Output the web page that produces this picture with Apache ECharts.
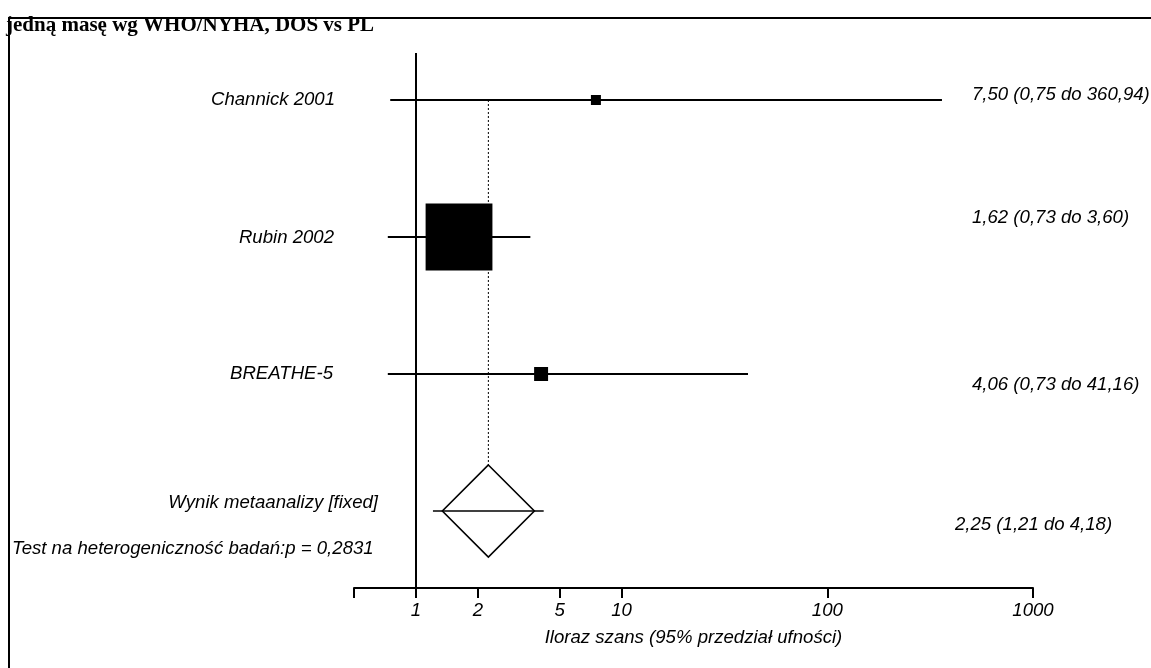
<!DOCTYPE html>
<html>
<head>
<meta charset="utf-8">
<script src="https://cdn.jsdelivr.net/npm/echarts@6/dist/echarts.min.js"></script>
<style>
  html, body { margin: 0; padding: 0; background: #fff; }
  #chart { width: 1151px; height: 668px; }
</style>
</head>
<body>
<div id="chart"></div>
<script>
// Forest plot: odds ratios with 95% CI, fixed-effect meta-analysis
const titleText = 'jedną masę wg WHO/NYHA, DOS vs PL';
const studies = ['Channick 2001', 'Rubin 2002', 'BREATHE-5'];
const oddsRatio = [7.50, 1.62, 4.06];
const ciLower = [0.75, 0.73, 0.73];
const ciUpper = [360.94, 3.60, 41.16];
const weights = [2.1, 93.8, 4.1];           // study weight, % (box area)
const pooledName = 'Wynik metaanalizy [fixed]';
const pooledOR = 2.25;
const pooledLower = 1.21;
const pooledUpper = 4.18;
const heterogeneityText = 'Test na heterogeniczność badań:p = 0,2831';
const axisTitle = 'Iloraz szans (95% przedział ufności)';
const tickValues = [0.5, 1, 2, 5, 10, 100, 1000];
const tickLabels = [1, 2, 5, 10, 100, 1000];

const fmt = v => v.toFixed(2).replace('.', ',');
const ciText = (m, lo, hi) => `${fmt(m)} (${fmt(lo)} do ${fmt(hi)})`;

const FONT = '"Liberation Sans", Arial, sans-serif';
const SERIF = '"Liberation Serif", "Times New Roman", serif';
const FS = 18.6;
const TXT = { fontFamily: FONT, fontStyle: 'italic', fontSize: FS, fill: '#000' };

const studyData = studies.map((s, i) => [oddsRatio[i], ciLower[i], ciUpper[i], i, weights[i]]);
const pooledRow = studies.length;

const chart = echarts.init(document.getElementById('chart'), null, { renderer: 'canvas' });

const option = {
  backgroundColor: '#fff',
  animation: false,
  grid: { left: 354, right: 118, top: 53, bottom: 80, containLabel: false, outerBoundsMode: 'none' },
  xAxis: {
    type: 'log', logBase: 10, min: 0.5, max: 1000,
    axisLine: { show: true, onZero: false, lineStyle: { color: '#000', width: 2 } },
    axisTick: { show: true, inside: false, length: 10, lineStyle: { color: '#000', width: 2 }, customValues: tickValues },
    axisLabel: {
      customValues: tickLabels, color: '#000', fontFamily: FONT, fontStyle: 'italic', fontSize: FS, margin: 13,
      formatter: v => String(Math.round(v))
    },
    splitLine: { show: false },
    minorTick: { show: false },
    name: axisTitle, nameLocation: 'middle', nameGap: 40,
    nameTextStyle: { color: '#000', fontFamily: FONT, fontStyle: 'italic', fontSize: FS }
  },
  yAxis: {
    type: 'value', inverse: true, min: -0.343, max: 3.562, show: false
  },
  series: [
    {
      // line of no effect at OR = 1
      type: 'scatter', data: [], silent: true,
      markLine: {
        symbol: 'none', silent: true, label: { show: false },
        lineStyle: { color: '#000', width: 2, type: 'solid' },
        data: [{ xAxis: 1 }]
      }
    },
    {
      // pooled estimate: dotted reference line, CI line and diamond
      type: 'custom', silent: true,
      data: [[pooledOR, pooledLower, pooledUpper, pooledRow]],
      renderItem: (params, api) => {
        const c = api.coord([api.value(0), api.value(3)]);
        const l = api.coord([api.value(1), api.value(3)]);
        const r = api.coord([api.value(2), api.value(3)]);
        const top = api.coord([api.value(0), 0]);
        const h = 46;
        return {
          type: 'group',
          children: [
            { type: 'line', shape: { x1: c[0], y1: top[1], x2: c[0], y2: c[1] - h },
              style: { stroke: '#000', lineWidth: 1, lineDash: [2, 2] } },
            { type: 'polygon', shape: { points: [[c[0], c[1] - h], [c[0] + h, c[1]], [c[0], c[1] + h], [c[0] - h, c[1]]] },
              style: { fill: '#fff', stroke: '#000', lineWidth: 1.6 } },
            { type: 'line', shape: { x1: l[0], y1: l[1], x2: r[0], y2: r[1] },
              style: { stroke: '#000', lineWidth: 1.6 } }
          ]
        };
      }
    },
    {
      // individual studies: CI line and weighted box
      type: 'custom', silent: true,
      data: studyData,
      renderItem: (params, api) => {
        const y = api.value(3);
        const c = api.coord([api.value(0), y]);
        const l = api.coord([api.value(1), y]);
        const r = api.coord([api.value(2), y]);
        const side = 69 * Math.sqrt(api.value(4) / 100);
        return {
          type: 'group',
          children: [
            { type: 'line', shape: { x1: l[0], y1: l[1], x2: r[0], y2: r[1] },
              style: { stroke: '#000', lineWidth: 2 } },
            { type: 'rect', shape: { x: c[0] - side / 2, y: c[1] - side / 2, width: side, height: side },
              style: { fill: '#000' } }
          ]
        };
      }
    }
  ],
  graphic: [
    // outer frame
    { type: 'rect', shape: { x: 9, y: 18, width: 1160, height: 680 }, style: { fill: null, stroke: '#000', lineWidth: 2 }, z: 10 },
    { type: 'text', style: { text: titleText, x: 6, y: 15, verticalAlign: 'alphabetic', font: `bold 21px ${SERIF}`, fill: '#000' }, z: 11 },
    // study names
    { type: 'text', style: Object.assign({ text: studies[0], x: 335, y: 100, align: 'right', verticalAlign: 'middle' }, TXT) },
    { type: 'text', style: Object.assign({ text: studies[1], x: 334, y: 238, align: 'right', verticalAlign: 'middle' }, TXT) },
    { type: 'text', style: Object.assign({ text: studies[2], x: 333, y: 374, align: 'right', verticalAlign: 'middle' }, TXT) },
    { type: 'text', style: Object.assign({ text: pooledName, x: 378, y: 503, align: 'right', verticalAlign: 'middle' }, TXT) },
    { type: 'text', style: Object.assign({ text: heterogeneityText, x: 12, y: 549, align: 'left', verticalAlign: 'middle' }, TXT) },
    // estimates with confidence intervals
    { type: 'text', style: Object.assign({ text: ciText(oddsRatio[0], ciLower[0], ciUpper[0]), x: 972, y: 95, verticalAlign: 'middle' }, TXT) },
    { type: 'text', style: Object.assign({ text: ciText(oddsRatio[1], ciLower[1], ciUpper[1]), x: 972, y: 218, verticalAlign: 'middle' }, TXT) },
    { type: 'text', style: Object.assign({ text: ciText(oddsRatio[2], ciLower[2], ciUpper[2]), x: 972, y: 385, verticalAlign: 'middle' }, TXT) },
    { type: 'text', style: Object.assign({ text: ciText(pooledOR, pooledLower, pooledUpper), x: 955, y: 525, verticalAlign: 'middle' }, TXT) }
  ]
};

chart.setOption(option);
</script>
</body>
</html>
